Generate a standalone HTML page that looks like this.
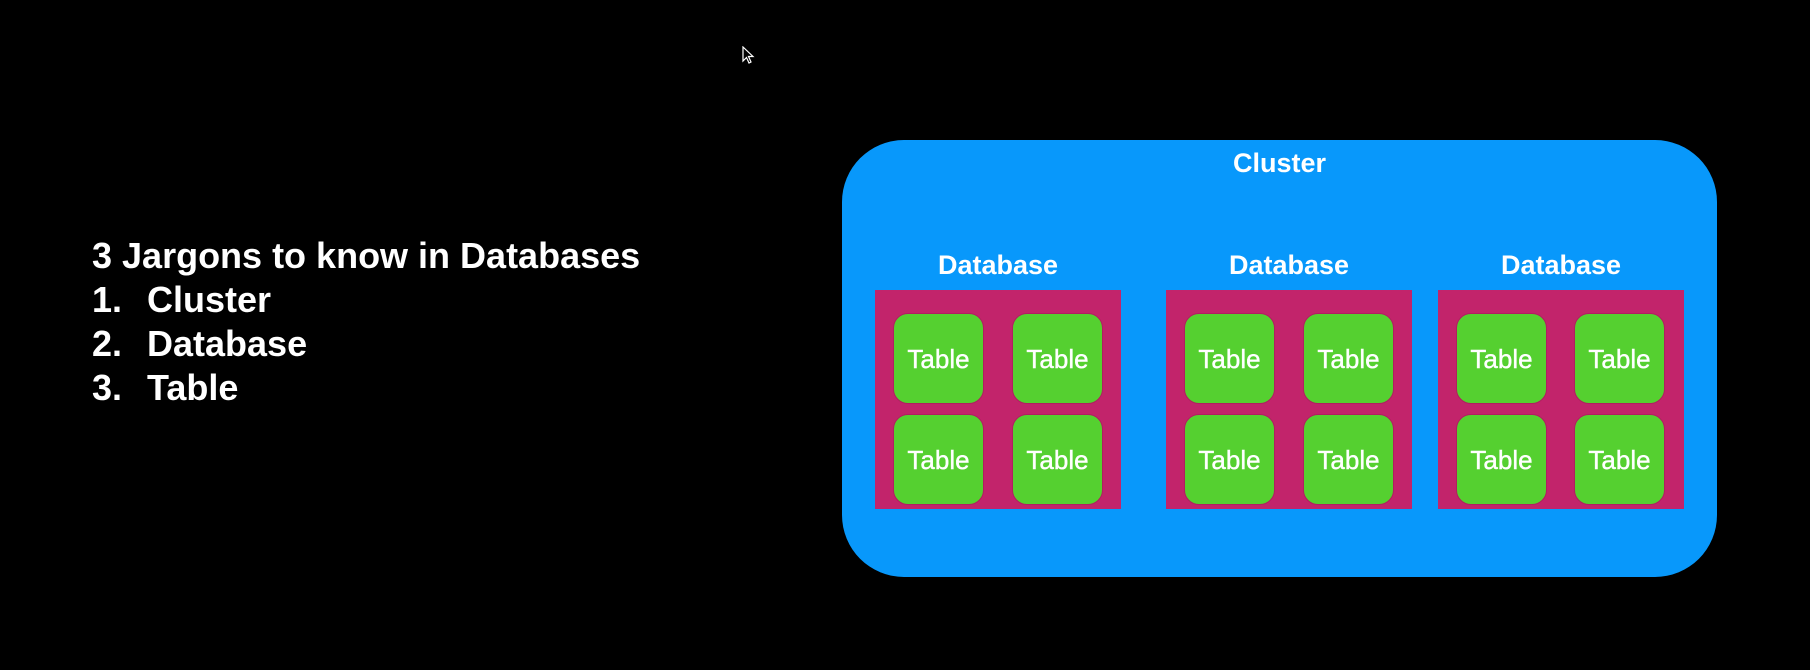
<!DOCTYPE html>
<html><head><style>
body{margin:0;width:1810px;height:670px;background:#000;position:relative;overflow:hidden;font-family:"Liberation Sans",sans-serif;color:#fff}
.t{position:absolute;white-space:nowrap}
.h{font-weight:bold;font-size:36px;left:92px;line-height:44px}
.cl{position:absolute;left:842px;top:140px;width:875px;height:437px;background:#0898fb;border-radius:62px}
.db{position:absolute;top:290px;width:246px;height:219px;background:#c2246b}
.lbl{position:absolute;top:250px;width:246px;text-align:center;font-weight:bold;font-size:27px}
.tb{position:absolute;width:91px;height:91px;background:#55d030;border-radius:15px;border:1px solid #b01f60;box-sizing:border-box;font-size:26px;line-height:90px;text-align:center;-webkit-text-stroke:0.4px #fff}
</style></head><body>
<div class="t h" style="top:234px">3 Jargons to know in Databases</div>
<div class="t h" style="top:278px">1.</div><div class="t h" style="top:278px;left:147px">Cluster</div>
<div class="t h" style="top:322px">2.</div><div class="t h" style="top:322px;left:147px">Database</div>
<div class="t h" style="top:366px">3.</div><div class="t h" style="top:366px;left:147px">Table</div>
<svg style="position:absolute;left:742px;top:46px" width="14" height="20"><path d="M1 1 L1 15 L4.5 11.5 L7 17 L9 16 L6.5 10.5 L11 10.5 Z" fill="#000" stroke="#fff" stroke-width="1.2"/></svg>
<div class="cl"></div>
<div class="t" style="left:842px;width:875px;text-align:center;top:148px;font-weight:bold;font-size:27px">Cluster</div>

<div class="lbl" style="left:875px">Database</div>
<div class="db" style="left:875px"></div>
<div class="tb" style="left:893px;top:313px">Table</div><div class="tb" style="left:1012px;top:313px">Table</div>
<div class="tb" style="left:893px;top:414px">Table</div><div class="tb" style="left:1012px;top:414px">Table</div>

<div class="lbl" style="left:1166px">Database</div>
<div class="db" style="left:1166px"></div>
<div class="tb" style="left:1184px;top:313px">Table</div><div class="tb" style="left:1303px;top:313px">Table</div>
<div class="tb" style="left:1184px;top:414px">Table</div><div class="tb" style="left:1303px;top:414px">Table</div>

<div class="lbl" style="left:1438px">Database</div>
<div class="db" style="left:1438px"></div>
<div class="tb" style="left:1456px;top:313px">Table</div><div class="tb" style="left:1574px;top:313px">Table</div>
<div class="tb" style="left:1456px;top:414px">Table</div><div class="tb" style="left:1574px;top:414px">Table</div>
</body></html>
